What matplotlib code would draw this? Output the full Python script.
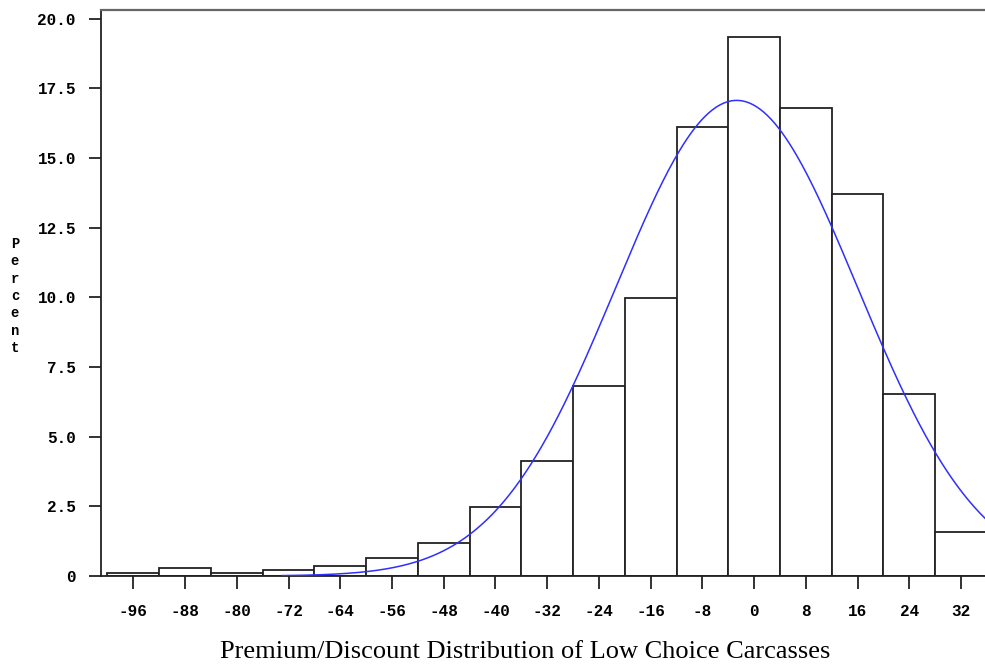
import numpy as np
import matplotlib
matplotlib.use('Agg')
import matplotlib.pyplot as plt

# bin midpoints and percent per bin
midpoints = [-96, -88, -80, -72, -64, -56, -48, -40, -32, -24, -16, -8, 0, 8, 16, 24, 32]
percents = [0.09, 0.27, 0.09, 0.22, 0.37, 0.63, 1.18, 2.48, 4.13, 6.8, 9.97, 16.12, 19.33, 16.8, 13.72, 6.52, 1.59]
bin_width = 8

# fitted normal curve parameters
mu = -2.7
sigma = 18.7
curve_start = -73

y_ticks = [0, 2.5, 5.0, 7.5, 10.0, 12.5, 15.0, 17.5, 20.0]
y_labels = ['0', '2.5', '5.0', '7.5', '10.0', '12.5', '15.0', '17.5', '20.0']

tick_font = {'family': 'Liberation Mono', 'size': 11.5, 'weight': 'bold', 'color': 'black'}

fig = plt.figure(figsize=(9.85, 6.67), dpi=100)
ax = fig.add_axes([101 / 985, 91 / 667, 884 / 985, 566 / 667])

ax.bar(midpoints, percents, width=bin_width, facecolor='white', edgecolor='#222222',
       linewidth=1.3, zorder=2)

xs = np.linspace(curve_start, 40, 400)
ys = bin_width * 100 * np.exp(-0.5 * ((xs - mu) / sigma) ** 2) / (sigma * np.sqrt(2 * np.pi))
ax.plot(xs, ys, color='#2f2fff', linewidth=1.1, zorder=3)

ax.set_xlim(-101, 35.7)
ax.set_ylim(0, 20.31)

ax.set_xticks(midpoints)
ax.set_xticklabels([str(m) for m in midpoints], fontdict=tick_font)
ax.set_yticks(y_ticks)
ax.set_yticklabels(y_labels, fontdict=tick_font)
ax.tick_params(axis='both', direction='out', length=9, width=1.3, color='#222222')
ax.tick_params(axis='x', pad=11)
ax.tick_params(axis='y', pad=9)

ax.spines['right'].set_visible(False)
ax.spines['top'].set_color('#666666')
ax.spines['top'].set_linewidth(1.6)
ax.spines['left'].set_linewidth(1.3)
ax.spines['bottom'].set_linewidth(1.3)
ax.spines['left'].set_color('#222222')
ax.spines['bottom'].set_color('#222222')

fig.text(15 / 985, 1 - 296 / 667, 'P\ne\nr\nc\ne\nn\nt', ha='center', va='center',
         family='Liberation Mono', weight='bold', size=10, linespacing=1.3)

fig.text(525 / 985, 1 - 652 / 667, 'Premium/Discount Distribution of Low Choice Carcasses',
         ha='center', va='center', family='Liberation Serif', size=19)

fig.savefig('out.png', dpi=100, facecolor='white')
